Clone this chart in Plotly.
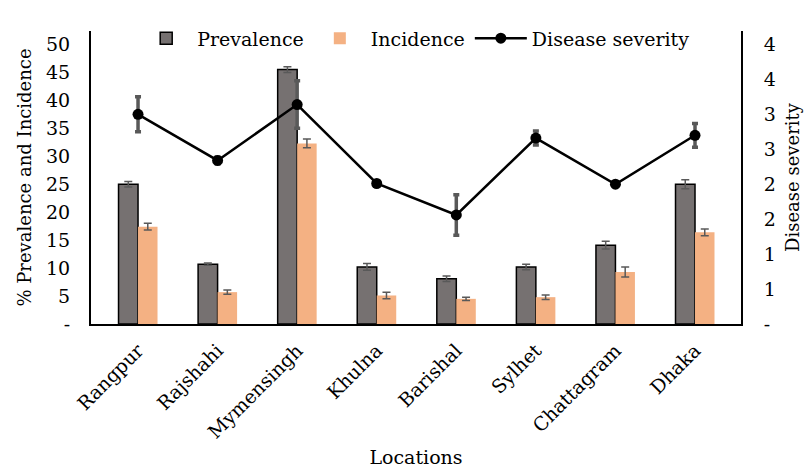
import plotly.graph_objects as go

locations = ["Rangpur", "Rajshahi", "Mymensingh", "Khulna", "Barishal", "Sylhet", "Chattagram", "Dhaka"]
prevalence = [25.0, 10.7, 45.5, 10.2, 8.1, 10.2, 14.1, 25.0]
prevalence_err = [0.5, 0.2, 0.5, 0.6, 0.5, 0.5, 0.7, 0.8]
incidence = [17.4, 5.7, 32.3, 5.1, 4.5, 4.8, 9.3, 16.4]
incidence_err = [0.6, 0.4, 0.8, 0.6, 0.3, 0.4, 0.9, 0.6]
severity = [3.0, 2.34, 3.14, 2.01, 1.56, 2.66, 2.0, 2.7]
severity_err = [0.25, 0.05, 0.34, 0.0, 0.29, 0.1, 0.0, 0.17]

left_ticks = [0, 5, 10, 15, 20, 25, 30, 35, 40, 45, 50]
left_ticktext = ["-", "5", "10", "15", "20", "25", "30", "35", "40", "45", "50"]
right_ticks = [0, 0.5, 1, 1.5, 2, 2.5, 3, 3.5, 4]
right_ticktext = ["-", "1", "1", "2", "2", "3", "3", "4", "4"]

FONT = "DejaVu Serif"

fig = go.Figure()
fig.add_trace(go.Bar(
    x=locations, y=prevalence, name="Prevalence",
    marker=dict(color="#767171", line=dict(color="black", width=1.5)),
    error_y=dict(type="data", array=prevalence_err, color="#595959", thickness=1.5, width=4),
))
fig.add_trace(go.Bar(
    x=locations, y=incidence, name="Incidence",
    marker=dict(color="#F4B183", line=dict(width=0)),
    error_y=dict(type="data", array=incidence_err, color="#595959", thickness=1.5, width=4),
))
fig.add_trace(go.Scatter(
    x=locations, y=severity, name="Disease severity", yaxis="y2",
    mode="lines+markers",
    line=dict(color="black", width=2.5),
    marker=dict(color="black", size=11),
    error_y=dict(type="data", array=severity_err, color="#595959", thickness=3.5, width=3),
))

fig.update_layout(
    width=804, height=460,
    margin=dict(l=83, r=71, t=11, b=144),
    paper_bgcolor="white", plot_bgcolor="white",
    font=dict(family=FONT, size=19, color="black"),
    barmode="group", bargap=0.51, bargroupgap=0,
    showlegend=True,
    legend=dict(orientation="h", x=0.068, xanchor="left", y=0.975, yanchor="middle",
                font=dict(size=19), bgcolor="rgba(0,0,0,0)", itemwidth=52,
                tracegroupgap=0),
    xaxis=dict(
        range=[-0.591, 7.578], tickangle=-45, showline=True, linecolor="black", linewidth=2,
        ticks="", automargin=False, ticklabelstandoff=6,
        title=dict(text="Locations", font=dict(size=19), standoff=15),
        tickfont=dict(size=19), mirror=False,
    ),
    yaxis=dict(
        range=[0, 52.4], tickvals=left_ticks, ticktext=left_ticktext, showgrid=False,
        showline=True, linecolor="black", linewidth=2, ticks="", zeroline=False,
        automargin=False, ticklabelstandoff=15,
        title=dict(text="% Prevalence and Incidence", font=dict(size=18), standoff=10),
        tickfont=dict(size=19),
    ),
    yaxis2=dict(
        range=[0, 4.192], tickvals=right_ticks, ticktext=right_ticktext, overlaying="y",
        side="right", showgrid=False, showline=True, linecolor="black", linewidth=2,
        ticks="", zeroline=False, automargin=False, ticklabelstandoff=17,
        title=dict(text="Disease severity", font=dict(size=18), standoff=12),
        tickfont=dict(size=19),
    ),
)

fig.write_html("out.html")
